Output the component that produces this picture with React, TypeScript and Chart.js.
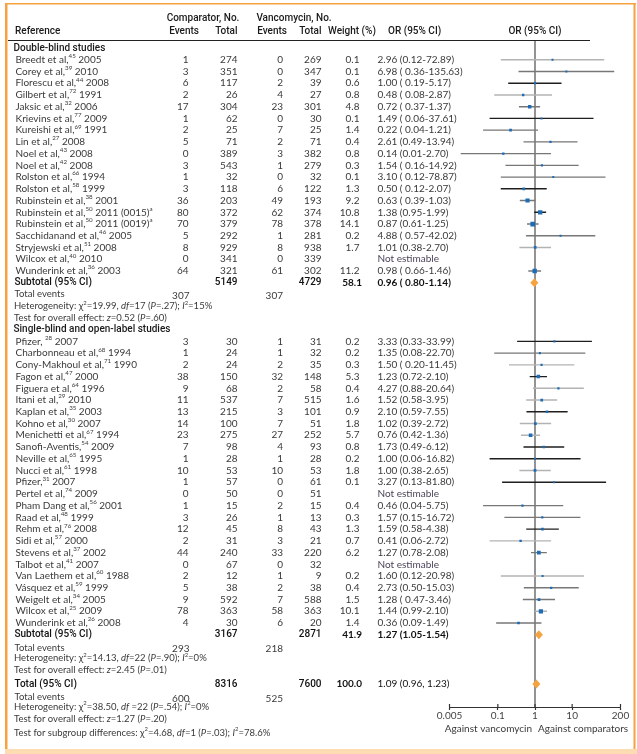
import { useEffect, useRef } from 'react';
import { Chart, registerables } from 'chart.js';
Chart.register(...registerables);

// ---------------- DATA ----------------
const DOUBLE_BLIND_COUNT = 19;

const studyNames = [
  'Breedt et al,^45^ 2005', 'Corey et al,^39^ 2010', 'Florescu et al,^44^ 2008', 'Gilbert et al,^72^ 1991',
  'Jaksic et al,^32^ 2006', 'Krievins et al,^77^ 2009', 'Kureishi et al,^69^ 1991', 'Lin et al,^27^ 2008',
  'Noel et al,^43^ 2008', 'Noel et al,^42^ 2008', 'Rolston et al,^66^ 1994', 'Rolston et al,^58^ 1999',
  'Rubinstein et al,^38^ 2001', 'Rubinstein et al,^50^ 2011 (0015)^a^', 'Rubinstein et al,^50^ 2011 (0019)^a^',
  'Sacchidanand et al,^46^ 2005', 'Stryjewski et al,^51^ 2008', 'Wilcox et al,^40^ 2010', 'Wunderink et al,^36^ 2003',
  'Pfizer, ^28^ 2007', 'Charbonneau et al,^68^ 1994', 'Cony-Makhoul et al,^71^ 1990', 'Fagon et al,^47^ 2000',
  'Figuera et al,^64^ 1996', 'Itani et al,^29^ 2010', 'Kaplan et al,^35^ 2003', 'Kohno et al,^30^ 2007',
  'Menichetti et al,^67^ 1994', 'Sanofi-Aventis,^54^ 2009', 'Neville et al,^65^ 1995', 'Nucci et al,^61^ 1998',
  'Pfizer,^31^ 2007', 'Pertel et al,^74^ 2009', 'Pham Dang et al,^56^ 2001', 'Raad et al,^48^ 1999',
  'Rehm et al,^76^ 2008', 'Sidi et al,^57^ 2000', 'Stevens et al,^37^ 2002', 'Talbot et al,^41^ 2007',
  'Van Laethem et al,^60^ 1988', 'Vásquez et al,^59^ 1999', 'Weigelt et al,^34^ 2005', 'Wilcox et al,^25^ 2009',
  'Wunderink et al,^26^ 2008',
];
const compEvents = [1, 3, 6, 2, 17, 1, 2, 5, 0, 3, 1, 3, 36, 80, 70, 5, 8, 0, 64,
  3, 1, 2, 38, 9, 11, 13, 14, 23, 7, 1, 10, 1, 0, 1, 3, 12, 2, 44, 0, 2, 5, 9, 78, 4];
const compTotals = [274, 351, 117, 26, 304, 62, 25, 71, 389, 543, 32, 118, 203, 372, 379, 292, 929, 341, 321,
  30, 24, 24, 150, 68, 537, 215, 100, 275, 98, 28, 53, 57, 50, 15, 26, 45, 31, 240, 67, 12, 38, 592, 363, 30];
const vancEvents = [0, 0, 2, 4, 23, 0, 7, 2, 3, 1, 0, 6, 49, 62, 78, 1, 8, 0, 61,
  1, 1, 2, 32, 2, 7, 3, 7, 27, 4, 1, 10, 0, 0, 2, 1, 8, 3, 33, 0, 1, 2, 7, 58, 6];
const vancTotals = [269, 347, 39, 27, 301, 30, 25, 71, 382, 279, 32, 122, 193, 374, 378, 281, 938, 339, 302,
  31, 32, 35, 148, 58, 515, 101, 51, 252, 93, 28, 53, 61, 51, 15, 13, 43, 21, 220, 32, 9, 38, 588, 363, 20];
const weights = [0.1, 0.1, 0.6, 0.8, 4.8, 0.1, 1.4, 0.4, 0.8, 0.3, 0.1, 1.3, 9.2, 10.8, 14.1, 0.2, 1.7, null, 11.2,
  0.2, 0.2, 0.3, 5.3, 0.4, 1.6, 0.9, 1.8, 5.7, 0.8, 0.2, 1.8, 0.1, null, 0.4, 0.3, 1.3, 0.7, 6.2, null, 0.2, 0.4, 1.5, 10.1, 1.4];
const oddsRatios = [2.96, 6.98, 1.00, 0.48, 0.72, 1.49, 0.22, 2.61, 0.14, 1.54, 3.10, 0.50, 0.63, 1.38, 0.87, 4.88, 1.01, null, 0.98,
  3.33, 1.35, 1.50, 1.23, 4.27, 1.52, 2.10, 1.02, 0.76, 1.73, 1.00, 1.00, 3.27, null, 0.46, 1.57, 1.59, 0.41, 1.27, null, 1.60, 2.73, 1.28, 1.44, 0.36];
const ciLow = [0.12, 0.36, 0.19, 0.08, 0.37, 0.06, 0.04, 0.49, 0.01, 0.16, 0.12, 0.12, 0.39, 0.95, 0.61, 0.57, 0.38, null, 0.66,
  0.33, 0.08, 0.20, 0.72, 0.88, 0.58, 0.59, 0.39, 0.42, 0.49, 0.06, 0.38, 0.13, null, 0.04, 0.15, 0.58, 0.06, 0.78, null, 0.12, 0.50, 0.47, 0.99, 0.09];
const ciHigh = [72.89, 135.63, 5.17, 2.87, 1.37, 37.61, 1.21, 13.94, 2.70, 14.92, 78.87, 2.07, 1.03, 1.99, 1.25, 42.02, 2.70, null, 1.46,
  33.99, 22.70, 11.45, 2.10, 20.64, 3.95, 7.55, 2.72, 1.36, 6.12, 16.82, 2.65, 81.80, null, 5.75, 16.72, 4.38, 2.72, 2.08, null, 20.98, 15.03, 3.46, 2.10, 1.49];
const orLabels = ['2.96 (0.12-72.89)', '6.98 ( 0.36-135.63)', '1.00 ( 0.19-5.17)', '0.48 ( 0.08-2.87)', '0.72 ( 0.37-1.37)',
  '1.49 ( 0.06-37.61)', '0.22 ( 0.04-1.21)', '2.61 (0.49-13.94)', '0.14 (0.01-2.70)', '1.54 ( 0.16-14.92)', '3.10 ( 0.12-78.87)',
  '0.50 ( 0.12-2.07)', '0.63 ( 0.39-1.03)', '1.38 (0.95-1.99)', '0.87 (0.61-1.25)', '4.88 ( 0.57-42.02)', '1.01 (0.38-2.70)',
  'Not estimable', '0.98 ( 0.66-1.46)',
  '3.33 (0.33-33.99)', '1.35 (0.08-22.70)', '1.50 ( 0.20-11.45)', '1.23 (0.72-2.10)', '4.27 (0.88-20.64)', '1.52 (0.58-3.95)',
  '2.10 (0.59-7.55)', '1.02 (0.39-2.72)', '0.76 (0.42-1.36)', '1.73 (0.49-6.12)', '1.00 (0.06-16.82)', '1.00 (0.38-2.65)',
  '3.27 (0.13-81.80)', 'Not estimable', '0.46 (0.04-5.75)', '1.57 (0.15-16.72)', '1.59 (0.58-4.38)', '0.41 (0.06-2.72)',
  '1.27 (0.78-2.08)', 'Not estimable', '1.60 (0.12-20.98)', '2.73 (0.50-15.03)', '1.28 ( 0.47-3.46)', '1.44 (0.99-2.10)',
  '0.36 (0.09-1.49)'];
// line tone of each CI whisker as printed: L light gray, M mid gray, K black
const lineTones = 'LMKLMKMMMMMKMKMML-M' + 'KMLKLLKLLKKLK-MMKLM-LMMLM';

const sectionTitles = ['Double-blind studies', 'Single-blind and open-label studies'];
const pooledLabels = ['Subtotal (95% CI)', 'Subtotal (95% CI)', 'Total (95% CI)'];
const pooledOR = [0.96, 1.27, 1.09];
const pooledLow = [0.80, 1.05, 0.96];
const pooledHigh = [1.14, 1.54, 1.23];
const pooledORLabels = ['0.96 ( 0.80-1.14)', '1.27 (1.05-1.54)', '1.09 (0.96, 1.23)'];
const pooledWeights = ['58.1', '41.9', '100.0'];
const pooledCompTotals = [5149, 3167, 8316];
const pooledVancTotals = [4729, 2871, 7600];
const pooledCompEvents = [307, 293, 600];
const pooledVancEvents = [307, 218, 525];
const heterogeneityTexts = [
  'Heterogeneity: χ^2^=19.99, ~df~=17 (~P~=.27); ~I~^2^=15%',
  'Heterogeneity: χ^2^=14.13, ~df~=22 (~P~=.90); ~I~^2^=0%',
  'Heterogeneity: χ^2^=38.50, ~df~ =22 (~P~=.54); ~I~^2^=0%',
];
const overallEffectTexts = [
  'Test for overall effect: ~z~=0.52 (~P~=.60)',
  'Test for overall effect: ~z~=2.45 (~P~=.01)',
  'Test for overall effect: ~z~=1.27 (~P~=.20)',
];
const subgroupText = 'Test for subgroup differences: χ^2^=4.68, ~df~=1 (~P~=.03); ~I~^2^=78.6%';
const tickValues = [0.005, 0.1, 1, 10, 200];
const tickLabels = ['0.005', '0.1', '1', '10', '200'];
const favourLabels = ['Against vancomycin', 'Against comparators'];

// ---------------- LAYOUT / STYLE ----------------
const W = 637, H = 754;
const BODY = 'Lato, "DejaVu Sans", sans-serif';
const HEAD = 'Roboto, "DejaVu Sans", sans-serif';
const ORANGE = '#F6A33F';
const BLUE = '#1D6CB5';
const toneColor: Record<string, string> = { L: '#b3b3b3', M: '#777777', K: '#1e1e1e' };

const rowOf = (i: number) => (i < DOUBLE_BLIND_COUNT ? i + 1 : i + 6);
// row positions of pooled/footer lines
const pooledRows = [20, 50, 54.2];
const eventRows = [21, 51.1, 55.3];
const hetRows = [22, 52, 56.15];
const effectRows = [23, 53, 57.15];
const subgroupRow = 58.35;
const sectionRows = [0, 24];

const COL = { name: 15.5, cEv: 188.5, cTot: 237.5, vEv: 283, vTot: 321.5, wt: 359.5, or: 377.5 };

type Piece = { t: string; sup: boolean; it: boolean };
function drawRich(ctx: CanvasRenderingContext2D, str: string, x: number, y: number, size: number,
  family: string, weight: string, align: 'left' | 'right' | 'center' = 'left') {
  const pieces: Piece[] = str.split(/(\^[^^]*\^|~[^~]*~)/).filter((s) => s.length > 0).map((p) => {
    if (p[0] === '^') return { t: p.slice(1, -1), sup: true, it: false };
    if (p[0] === '~') return { t: p.slice(1, -1), sup: false, it: true };
    return { t: p, sup: false, it: false };
  });
  const fontOf = (pc: Piece) => `${pc.it ? 'italic ' : ''}${weight} ${pc.sup ? size * 0.62 : size}px ${family}`;
  let total = 0;
  for (const pc of pieces) { ctx.font = fontOf(pc); total += ctx.measureText(pc.t).width; }
  let cx = align === 'right' ? x - total : align === 'center' ? x - total / 2 : x;
  ctx.textAlign = 'left';
  for (const pc of pieces) {
    ctx.font = fontOf(pc);
    ctx.fillText(pc.t, cx, pc.sup ? y - size * 0.36 : y);
    cx += ctx.measureText(pc.t).width;
  }
}

const forestPlugin = {
  id: 'forest',
  beforeDraw(chart: any) {
    const ctx = chart.ctx as CanvasRenderingContext2D;
    ctx.save();
    ctx.fillStyle = '#fff';
    ctx.fillRect(0, 0, W, H);
    ctx.fillStyle = ORANGE;
    ctx.fillRect(5, 3, 631, 1.5);
    ctx.fillRect(5, 3, 2.5, 746);
    ctx.fillRect(633.5, 3, 2, 746);
    ctx.fillStyle = '#FDDCB4';
    ctx.fillRect(5, 749, 632, 5);
    ctx.restore();
  },
  beforeDatasetsDraw(chart: any) {
    const ctx = chart.ctx as CanvasRenderingContext2D;
    const x1 = chart.scales.x.getPixelForValue(1);
    ctx.save();
    ctx.strokeStyle = '#5a5a5a';
    ctx.lineWidth = 1.3;
    ctx.beginPath();
    ctx.moveTo(x1, chart.chartArea.top);
    ctx.lineTo(x1, chart.chartArea.bottom);
    ctx.stroke();
    ctx.restore();
  },
  afterDatasetsDraw(chart: any) {
    const ctx = chart.ctx as CanvasRenderingContext2D;
    const xs = chart.scales.x, ys = chart.scales.y;
    ctx.save();
    ctx.fillStyle = ORANGE;
    pooledOR.forEach((v, k) => {
      const yc = ys.getPixelForValue(pooledRows[k]);
      const xc = xs.getPixelForValue(v);
      const xl = Math.min(xs.getPixelForValue(pooledLow[k]), xc - 4);
      const xr = Math.max(xs.getPixelForValue(pooledHigh[k]), xc + 4);
      const hh = 4.5;
      ctx.beginPath();
      ctx.moveTo(xl, yc);
      ctx.lineTo(xc, yc - hh);
      ctx.lineTo(xr, yc);
      ctx.lineTo(xc, yc + hh);
      ctx.closePath();
      ctx.fill();
    });
    ctx.restore();
  },
  afterDraw(chart: any) {
    const ctx = chart.ctx as CanvasRenderingContext2D;
    const xs = chart.scales.x, ys = chart.scales.y;
    const Y = (r: number) => ys.getPixelForValue(r);
    const area = chart.chartArea;
    ctx.save();
    ctx.textBaseline = 'middle';

    // upward half of the axis ticks
    ctx.strokeStyle = '#333';
    ctx.lineWidth = 1.2;
    tickValues.forEach((v) => {
      const px = xs.getPixelForValue(v);
      ctx.beginPath();
      ctx.moveTo(px, area.bottom - 3);
      ctx.lineTo(px, area.bottom);
      ctx.stroke();
    });

    // header underline
    ctx.strokeStyle = '#222';
    ctx.lineWidth = 1;
    ctx.beginPath();
    ctx.moveTo(8, Math.round(area.top) + 0.5);
    ctx.lineTo(590, Math.round(area.top) + 0.5);
    ctx.stroke();

    // headers
    ctx.fillStyle = '#1a1a1a';
    const h1 = Y(-2.5), h2 = Y(-1.37);
    drawRich(ctx, 'Comparator, No.', 203, h1, 10, HEAD, '500', 'center');
    drawRich(ctx, 'Vancomycin, No.', 294, h1, 10, HEAD, '500', 'center');
    drawRich(ctx, 'Reference', 15, h2, 10, HEAD, '500');
    drawRich(ctx, 'Events', 199, h2, 10, HEAD, '500', 'right');
    drawRich(ctx, 'Total', 237.5, h2, 10, HEAD, '500', 'right');
    drawRich(ctx, 'Events', 287, h2, 10, HEAD, '500', 'right');
    drawRich(ctx, 'Total', 321.5, h2, 10, HEAD, '500', 'right');
    drawRich(ctx, 'Weight (%)', 328, h2, 10, HEAD, '500');
    drawRich(ctx, 'OR (95% CI)', 388, h2, 10, HEAD, '500');
    drawRich(ctx, 'OR (95% CI)', xs.getPixelForValue(1), h2, 10, HEAD, '500', 'center');

    // section titles
    sectionTitles.forEach((t, k) => drawRich(ctx, t, 13.5, Y(sectionRows[k]), 10, HEAD, '500'));

    // study rows
    studyNames.forEach((name, i) => {
      const yy = Y(rowOf(i));
      ctx.fillStyle = '#3a3a3a';
      drawRich(ctx, name, COL.name, yy, 10, BODY, 'normal');
      drawRich(ctx, String(compEvents[i]), COL.cEv, yy, 10, BODY, 'normal', 'right');
      drawRich(ctx, String(compTotals[i]), COL.cTot, yy, 10, BODY, 'normal', 'right');
      drawRich(ctx, String(vancEvents[i]), COL.vEv, yy, 10, BODY, 'normal', 'right');
      drawRich(ctx, String(vancTotals[i]), COL.vTot, yy, 10, BODY, 'normal', 'right');
      if (weights[i] != null) drawRich(ctx, String(weights[i]), COL.wt, yy, 10, BODY, 'normal', 'right');
      ctx.fillStyle = oddsRatios[i] == null ? '#4a4458' : '#3a3a3a';
      drawRich(ctx, orLabels[i], COL.or, yy, 10, BODY, 'normal');
    });

    // pooled rows
    pooledLabels.forEach((lab, k) => {
      const yy = Y(pooledRows[k]);
      ctx.fillStyle = '#111';
      drawRich(ctx, lab, COL.name - 1, yy, 10, HEAD, '500');
      drawRich(ctx, String(pooledCompTotals[k]), COL.cTot, yy, 10, HEAD, '500', 'right');
      drawRich(ctx, String(pooledVancTotals[k]), COL.vTot, yy, 10, HEAD, '500', 'right');
      drawRich(ctx, pooledWeights[k], COL.wt + 2.5, yy, 10, BODY, 'bold', 'right');
      drawRich(ctx, pooledORLabels[k], COL.or, yy, 10, BODY, k === 2 ? 'normal' : 'bold');
      ctx.fillStyle = '#3a3a3a';
      const ey = Y(eventRows[k]);
      drawRich(ctx, 'Total events', COL.name - 1, ey, 9.5, BODY, 'normal');
      drawRich(ctx, String(pooledCompEvents[k]), COL.cEv + 1, ey + 1.5, 10, BODY, 'normal', 'right');
      drawRich(ctx, String(pooledVancEvents[k]), COL.vEv, ey + 1.5, 10, BODY, 'normal', 'right');
      drawRich(ctx, heterogeneityTexts[k], COL.name - 1.5, Y(hetRows[k]), 9.5, BODY, 'normal');
      drawRich(ctx, overallEffectTexts[k], COL.name - 1.5, Y(effectRows[k]), 9.5, BODY, 'normal');
    });
    drawRich(ctx, subgroupText, COL.name - 1.5, Y(subgroupRow), 9.5, BODY, 'normal');

    // favour labels
    const x1 = xs.getPixelForValue(1);
    ctx.fillStyle = '#3a3a3a';
    drawRich(ctx, favourLabels[0], x1 - 3, 729, 10, BODY, 'normal', 'right');
    drawRich(ctx, favourLabels[1], x1 + 3, 729, 10, BODY, 'normal', 'left');
    ctx.restore();
  },
};

export default function App() {
  const ref = useRef<HTMLCanvasElement | null>(null);
  useEffect(() => {
    if (!ref.current) return;
    document.body.style.margin = '0';
    const idx = studyNames.map((_, i) => i).filter((i) => oddsRatios[i] != null);
    const chart = new Chart(ref.current, {
      type: 'bar',
      data: {
        datasets: [
          {
            type: 'scatter',
            data: idx.map((i) => ({ x: oddsRatios[i] as number, y: rowOf(i) })),
            pointStyle: 'rect',
            pointRadius: idx.map((i) => (1.7 + 0.8 * Math.sqrt(weights[i] as number)) / Math.SQRT2),
            pointBackgroundColor: BLUE,
            pointBorderWidth: 0,
            borderWidth: 0,
          } as any,
          {
            type: 'bar',
            indexAxis: 'y',
            data: idx.map((i) => ({ x: [ciLow[i] as number, ciHigh[i] as number], y: rowOf(i) })),
            backgroundColor: idx.map((i) => toneColor[lineTones[i]]),
            barThickness: 1.4,
            inflateAmount: 0,
            borderWidth: 0,
          } as any,
        ],
      },
      options: {
        responsive: false,
        animation: false,
        events: [],
        indexAxis: 'y',
        layout: { padding: { left: 449.5, right: 16.5, top: 40, bottom: 32 } },
        plugins: { legend: { display: false }, tooltip: { enabled: false }, title: { display: false } },
        scales: {
          x: {
            type: 'logarithmic',
            position: 'bottom',
            min: 0.005,
            max: 200,
            offset: false,
            afterBuildTicks: (axis: any) => { axis.ticks = tickValues.map((v) => ({ value: v })); },
            ticks: {
              autoSkip: false,
              maxRotation: 0,
              padding: 0,
              color: '#444',
              font: { family: BODY, size: 10 },
              callback: (_v: any, i: number) => tickLabels[i],
            },
            grid: { drawOnChartArea: false, drawTicks: true, tickLength: 3, color: '#333', tickWidth: 1.2 },
            border: { display: true, color: '#333', width: 1 },
          },
          y: {
            type: 'linear',
            reverse: true,
            min: -0.682,
            max: 56.157,
            offset: false,
            display: false,
          },
        },
      } as any,
      plugins: [forestPlugin],
    });
    return () => chart.destroy();
  }, []);
  return (
    <div style={{ position: 'absolute', left: 0, top: 0, width: W, height: H }}>
      <canvas ref={ref} width={W} height={H} style={{ display: 'block' }} />
    </div>
  );
}
